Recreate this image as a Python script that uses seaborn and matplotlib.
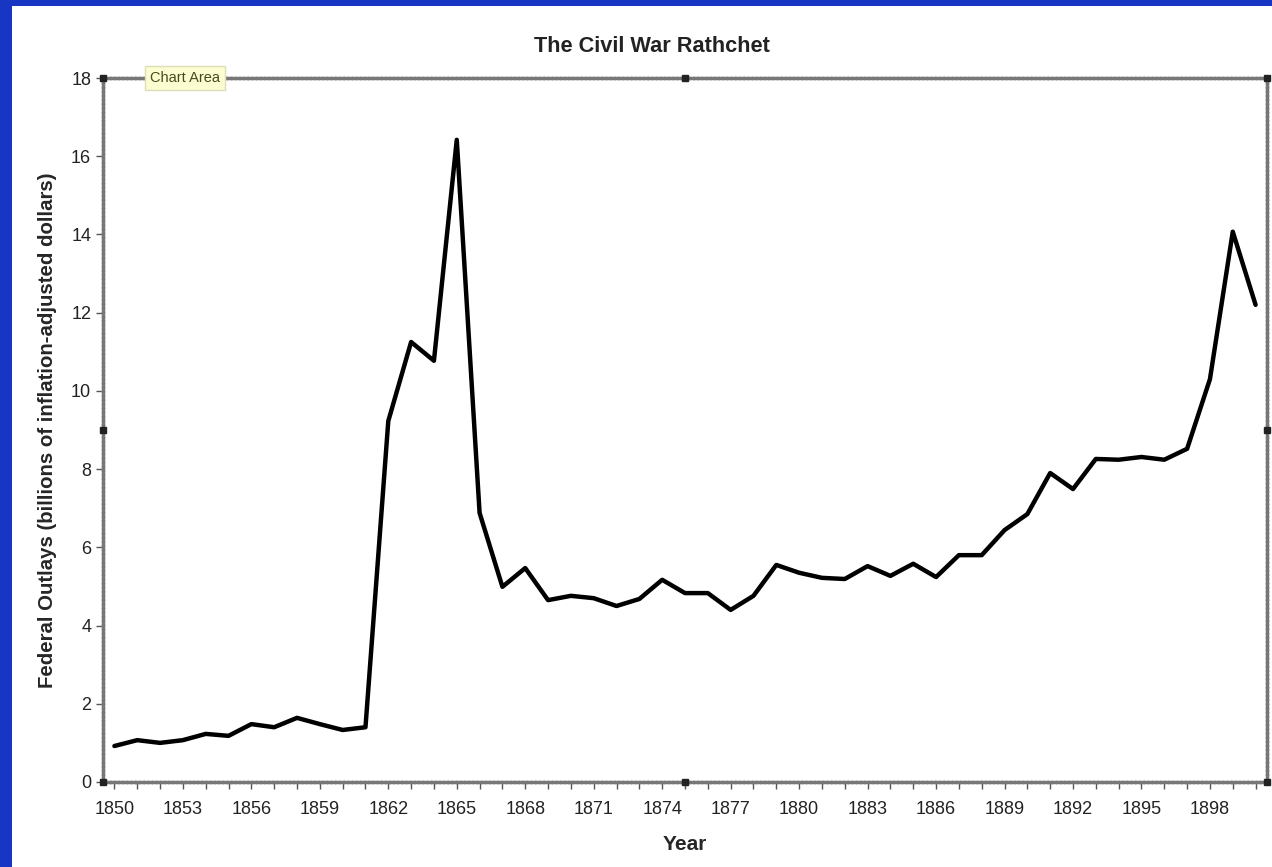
import numpy as np
import pandas as pd
import seaborn as sns
import matplotlib.pyplot as plt
from matplotlib.patches import Rectangle

# Federal outlays, billions of inflation-adjusted dollars
years = list(range(1850, 1901))
outlays = [
    0.92, 1.07, 1.00, 1.07, 1.23, 1.18, 1.48, 1.40, 1.64, 1.48,   # 1850-1859
    1.33, 1.40, 9.23, 11.25, 10.77, 16.42, 6.88, 4.99, 5.47, 4.65,  # 1860-1869
    4.76, 4.70, 4.50, 4.68, 5.17, 4.83, 4.83, 4.40, 4.76, 5.55,   # 1870-1879
    5.35, 5.22, 5.19, 5.52, 5.27, 5.58, 5.24, 5.80, 5.80, 6.44,   # 1880-1889
    6.85, 7.90, 7.49, 8.26, 8.24, 8.31, 8.24, 8.52, 10.30, 14.07,  # 1890-1899
    12.20,                                                         # 1900
]
x_tick_labels = list(range(1850, 1899, 3))
y_ticks = list(range(0, 19, 2))

df = pd.DataFrame({"Year": years, "Outlays": outlays})

sns.set_theme(style="white")
plt.rcParams['font.family'] = ['Liberation Sans', 'DejaVu Sans']

fig = plt.figure(figsize=(12.72, 8.67), dpi=100)
fig.patch.set_facecolor('#1836c4')
# white chart area on the blue slide background
fig.patches.append(Rectangle((12 / 1272, 0), 1 - 12 / 1272, 1 - 6 / 867,
                             transform=fig.transFigure, facecolor='white',
                             edgecolor='none', zorder=-10))

ax = fig.add_axes([103 / 1272, 1 - 782 / 867, (1267 - 103) / 1272, (782 - 78) / 867])
ax.set_facecolor('white')
sns.lineplot(data=df, x="Year", y="Outlays", color='black', linewidth=3.2, ax=ax)

ax.set_xlim(1849.5, 1900.5)
ax.set_ylim(0, 18)
ax.set_xticks(x_tick_labels)
ax.set_xticks(years, minor=True)
ax.set_yticks(y_ticks)
ax.tick_params(axis='both', which='both', direction='out', color='#555555',
               width=1.0, labelsize=13, labelcolor='#222222')
ax.tick_params(axis='both', which='major', length=5, bottom=True, left=True)
ax.tick_params(axis='x', which='minor', length=5, bottom=True)
ax.tick_params(axis='x', pad=9)

for sp in ax.spines.values():
    sp.set_visible(True)
    sp.set_color('#777777')
    sp.set_linewidth(2.5)
    sp.set_linestyle((0, (0.6, 0.6)))

# selection handles on the chart area border
for hx, hy in [(0, 0), (0.5, 0), (1, 0), (0, 0.5), (1, 0.5), (0, 1), (0.5, 1), (1, 1)]:
    ax.plot(hx, hy, marker='s', markersize=5, color='#222222', transform=ax.transAxes,
            clip_on=False, zorder=5)

ax.set_xlabel('Year', fontsize=15, fontweight='bold', labelpad=12)
ax.set_ylabel('Federal Outlays (billions of inflation-adjusted dollars)',
              fontsize=14.7, fontweight='bold', labelpad=10)
fig.text(652 / 1272, 1 - 46 / 867, 'The Civil War Rathchet', ha='center', va='center',
         fontsize=15.7, fontweight='bold', color='#222222')

# "Chart Area" tooltip
ax.text(150 / 1272, 1 - 78 / 867, 'Chart Area', transform=fig.transFigure,
        ha='left', va='center', fontsize=10.5, color='#4a4a20', zorder=6,
        bbox=dict(boxstyle='square,pad=0.35', facecolor='#fdfdd2', edgecolor='#deddb8'))

fig.savefig('out.png', dpi=100, facecolor=fig.get_facecolor())
